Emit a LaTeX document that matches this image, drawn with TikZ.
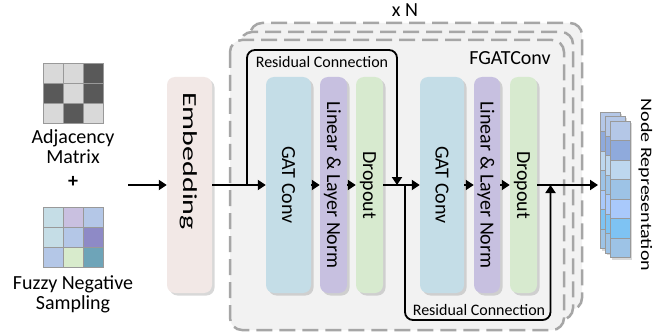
\documentclass[tikz,border=0pt]{standalone}
\usepackage{fontspec}
\setmainfont{Carlito}
\usetikzlibrary{arrows.meta,shadows}
\definecolor{gatc}{HTML}{C4DDE7}
\definecolor{linc}{HTML}{C7C0E0}
\definecolor{dropc}{HTML}{D7EACF}
\definecolor{embc}{HTML}{F2E8E6}
\definecolor{bggray}{HTML}{F2F2F2}
\definecolor{dashgray}{HTML}{A6A6A6}
\definecolor{adjL}{HTML}{D9D9D9}
\definecolor{adjD}{HTML}{595959}
\definecolor{fzA}{HTML}{C5DDE6}
\definecolor{fzB}{HTML}{C9C0E0}
\definecolor{fzC}{HTML}{B4C7E7}
\definecolor{fzD}{HTML}{8E8AC6}
\definecolor{fzE}{HTML}{D8EBCC}
\definecolor{fzF}{HTML}{6EA4B8}
\definecolor{nrA}{HTML}{B4C7E7}
\definecolor{nrB}{HTML}{8FAADC}
\definecolor{nrC}{HTML}{BDD7EE}
\definecolor{nrD}{HTML}{9DC3E6}
\definecolor{nrE}{HTML}{A9C9FB}
\definecolor{nrF}{HTML}{7EC3F3}
\definecolor{nrG}{HTML}{9DC3E6}
\begin{document}
\begin{tikzpicture}[x=1pt,y=-1pt,
  txt/.style={font=\fontsize{20}{24}\selectfont, inner sep=0pt},
  stxt/.style={font=\fontsize{16}{19}\selectfont, inner sep=0pt},
  layerbox/.style={draw=dashgray, fill=bggray, line width=2.5pt, dash pattern=on 16pt off 7pt, rounded corners=12pt},
  block/.style={rounded corners=8pt, inner sep=0pt, minimum height=216pt,
    drop shadow={shadow xshift=2.5pt, shadow yshift=-2.5pt, opacity=0.3}},
  arr/.style={line width=1.8pt, -{Triangle[length=8pt,width=10pt]}},
  resline/.style={line width=1.8pt, rounded corners=8pt, -{Triangle[length=8pt,width=10pt]}},
  rot/.style={txt, rotate=-90, text height=12.9pt, text depth=0pt},
  cell/.style={draw=gray!80, line width=0.5pt},
]
\useasboundingbox (0,0) rectangle (672,334);
\fill[white] (0,0) rectangle (672,334);

% stacked layers
\draw[layerbox] (250,23) rectangle (582,310);
\draw[layerbox] (240,32) rectangle (573,320);
\draw[layerbox] (230,40) rectangle (564,330);
\node[txt, anchor=base] (xn) at (405,17) {x N};
\node[txt, anchor=base] (fgat) at (510,65) {FGATConv};

% input matrices
\foreach \col [count=\i from 0] in {adjL,adjL,adjD,adjD,adjL,adjD,adjL,adjD,adjL}{
  \pgfmathtruncatemacro{\rr}{div(\i,3)}
  \pgfmathtruncatemacro{\cc}{mod(\i,3)}
  \draw[cell, fill=\col] (43+20*\cc,63+20*\rr) rectangle ++(20,20);
}
\foreach \col [count=\i from 0] in {fzA,fzB,fzC,fzA,fzC,fzD,fzC,fzE,fzF}{
  \pgfmathtruncatemacro{\rr}{div(\i,3)}
  \pgfmathtruncatemacro{\cc}{mod(\i,3)}
  \draw[cell, fill=\col] (43+20*\cc,207+20*\rr) rectangle ++(20,20);
}
\node[txt, anchor=base, text depth=0pt] (adj1) at (73,144) {Adjacency};
\node[txt, anchor=base, text height=13pt, text depth=0pt] (adj2) at (73,164) {Matrix};
\node[txt, anchor=base, text height=12pt] (plus) at (73,187) {\bfseries +};
\node[txt, anchor=base, text depth=0pt] (fz1) at (73,289) {Fuzzy Negative};
\node[txt, anchor=base, text height=13pt] (fz2) at (73,309) {Sampling};

% blocks
\node[block, fill=embc, minimum width=45pt] (emb) at (189.5,185) {};
\node[block, fill=gatc, minimum width=45pt] (gat1) at (288.5,185) {};
\node[block, fill=linc, minimum width=27pt] (lin1) at (333.5,185) {};
\node[block, fill=dropc, minimum width=27pt] (drop1) at (369.5,185) {};
\node[block, fill=gatc, minimum width=44pt] (gat2) at (442,185) {};
\node[block, fill=linc, minimum width=26pt] (lin2) at (487,185) {};
\node[block, fill=dropc, minimum width=27pt] (drop2) at (523.5,185) {};

\node[rot, font=\fontsize{24}{29}\selectfont, text height=12.9pt] (tEmb) at (189.5,161) {\scalebox{1.25}[0.83]{Embedding}};
\node[rot] (tGat1) at (288.5,185) {GAT Conv};
\node[rot] (tLin1) at (333.5,185) {Linear \& Layer Norm};
\node[rot] (tDrop1) at (369.5,185) {Dropout};
\node[rot] (tGat2) at (442,185) {GAT Conv};
\node[rot] (tLin2) at (487,185) {Linear \& Layer Norm};
\node[rot] (tDrop2) at (523.5,185) {Dropout};

% output stack
\foreach \dx/\dy in {0/0,5/4.5,10/9}{
  \fill[black, opacity=0.15] (600+\dx+2,112+\dy+2) rectangle ++(20,136.5);
  \foreach \col [count=\i from 0] in {nrA,nrB,nrC,nrD,nrE,nrF,nrG}{
    \draw[cell, fill=\col] (600+\dx,112+\dy+19.5*\i) rectangle ++(20,19.5);
  }
}
\node[rot, text height=12.9pt] (nrep) at (647.5,185) {\scalebox{1}[0.8]{Node Representation}};

% connectors
\coordinate (in) at (128,185);
\coordinate (out) at (598,185);
\coordinate (r1a) at (247,185);
\coordinate (r1top) at (322,50);
\coordinate (r1b) at (397,185);
\coordinate (r2a) at (405,185);
\coordinate (r2bot) at (478,320);
\coordinate (r2b) at (550.5,185);

\draw[arr] (in) -- (emb.west);
\draw[arr] (emb.east) -- (gat1.west);
\draw[arr] (gat1.east) -- (lin1.west);
\draw[arr] (lin1.east) -- (drop1.west);
\draw[arr] (drop1.east) -- (gat2.west);
\draw[arr] (gat2.east) -- (lin2.west);
\draw[arr] (lin2.east) -- (drop2.west);
\draw[arr] (drop2.east) -- (out);
\draw[resline] (r1a) |- (r1top) -| (r1b);
\draw[resline] (r2a) |- (r2bot) -| (r2b);
\node[stxt, anchor=base] (res1) at (322,68) {Residual Connection};
\node[stxt, anchor=base] (res2) at (479,315) {Residual Connection};
\end{tikzpicture}
\end{document}
